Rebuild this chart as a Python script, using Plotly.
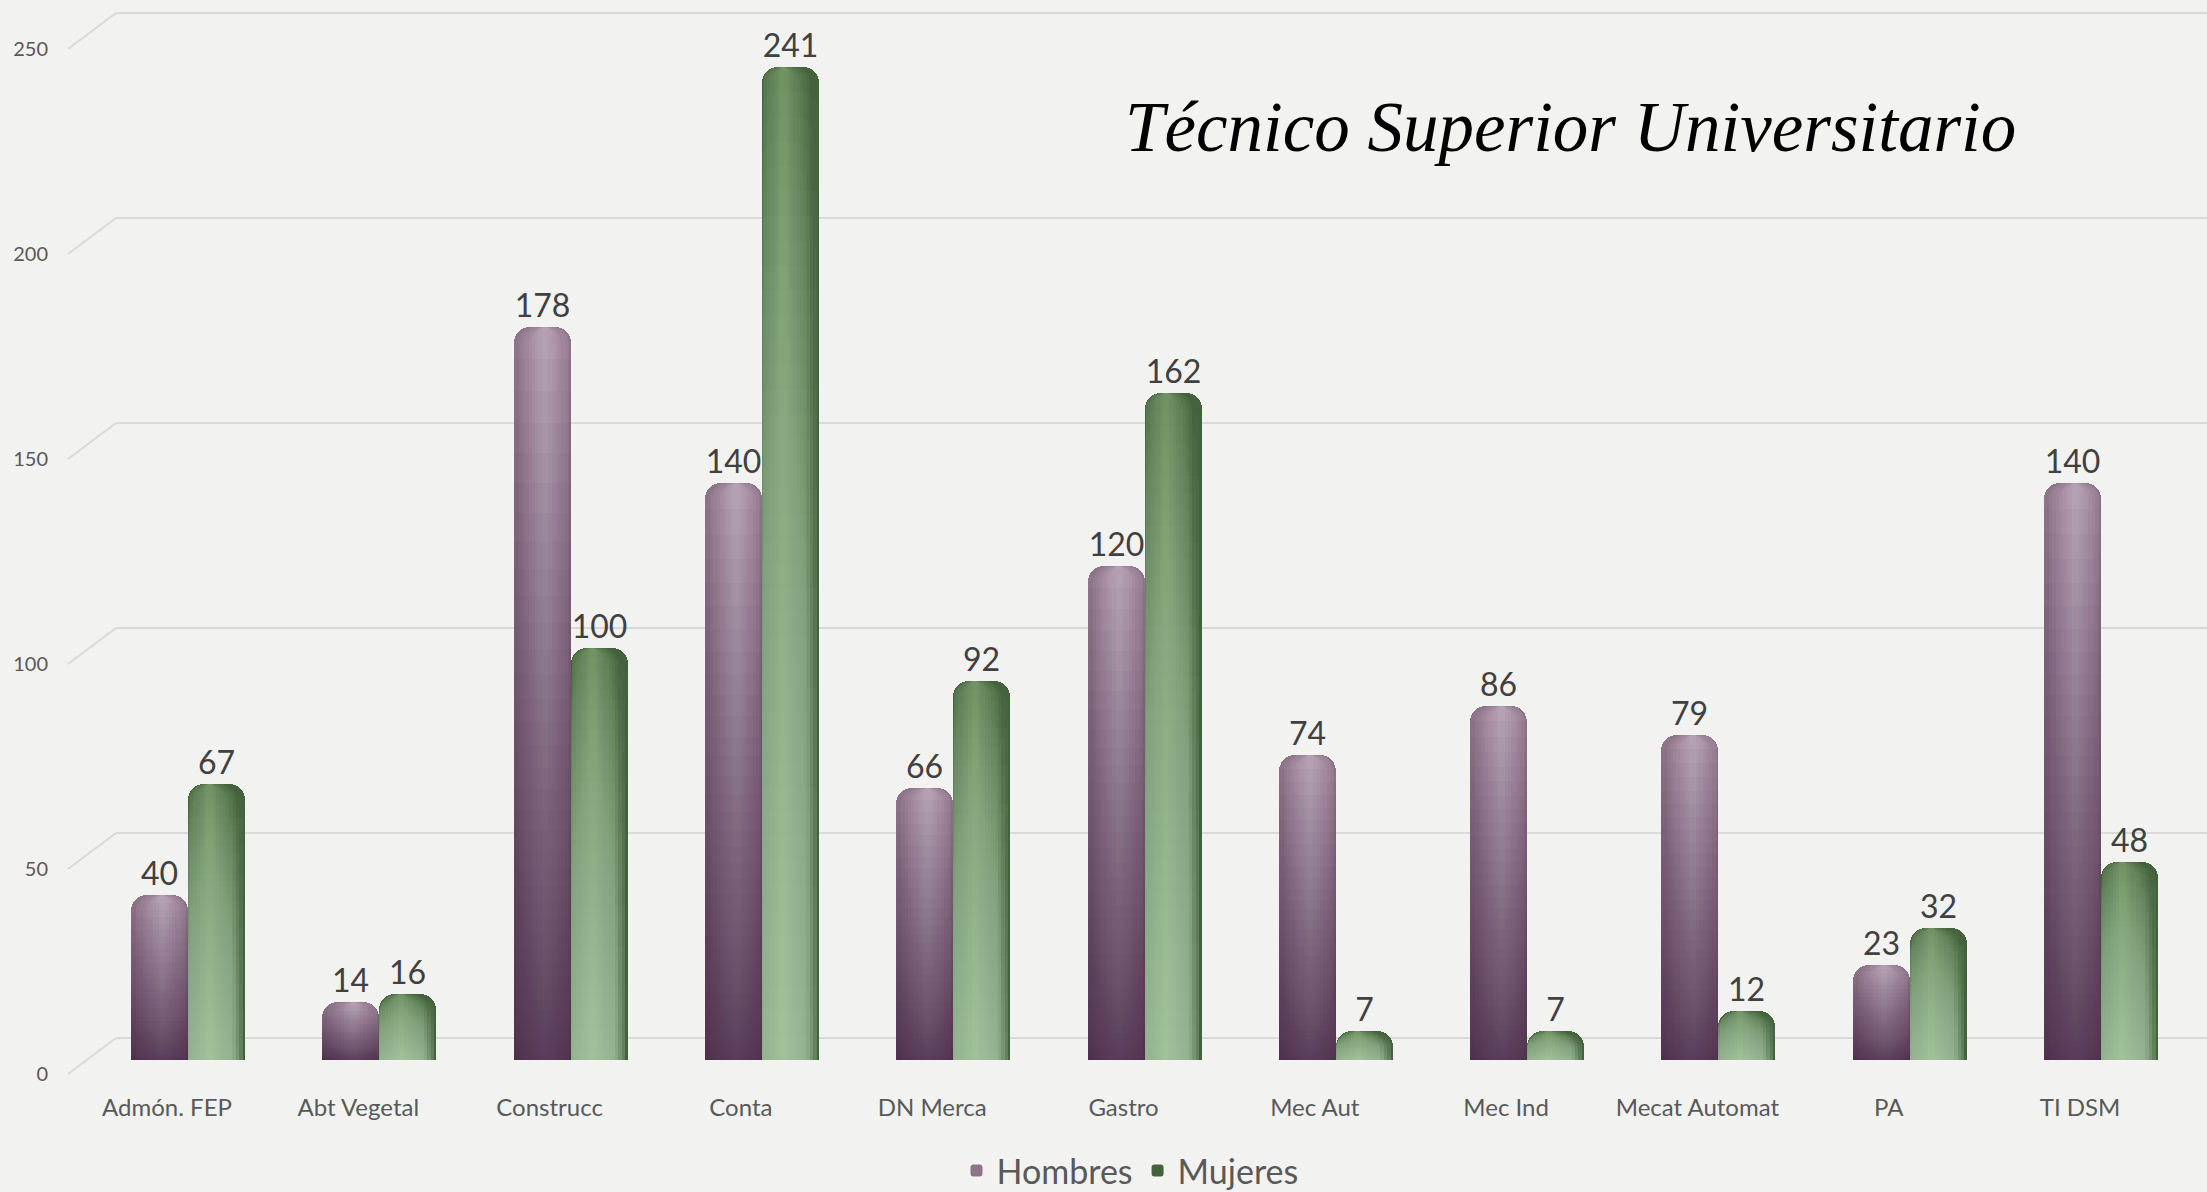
import plotly.graph_objects as go

# ---------------- data ----------------
categories = ["Admón. FEP", "Abt Vegetal", "Construcc", "Conta", "DN Merca", "Gastro",
              "Mec Aut", "Mec Ind", "Mecat Automat", "PA", "TI DSM"]
hombres = [40, 14, 178, 140, 66, 120, 74, 86, 79, 23, 140]
mujeres = [67, 16, 100, 241, 92, 162, 7, 7, 12, 32, 48]
y_ticks = [0, 50, 100, 150, 200, 250]
series_names = ["Hombres", "Mujeres"]
title_text = "Técnico Superior Universitario"

# ---------------- geometry ----------------
W, H = 2207, 1192
ML, MR, MT, MB = 116, 0, 10, 110
PW, PH = W - ML - MR, H - MT - MB

CAT_PX = 191.3          # pixels between category centres
FIRST_PX = 188          # pixel centre of first group
x0 = -(FIRST_PX - ML) / CAT_PX
x_range = [x0, x0 + PW / CAT_PX]

GRID_PX = 4.1           # back-wall scale (px per unit)
GRID_ZERO = 1038
g0 = -(MT + PH - GRID_ZERO) / GRID_PX
grid_range = [g0, g0 + PH / GRID_PX]

BAR_PX = 4.12           # front (bar) scale
BAR_ZERO = 1060
b0 = -(MT + PH - BAR_ZERO) / BAR_PX
bar_range = [b0, b0 + PH / BAR_PX]

BW = 57 / CAT_PX        # single bar width (category units)
R = 16                  # cap radius px
FONT = "Lato"
BG = "#f2f2f1"

fig = go.Figure()


def rgba(c, a):
    return "rgba(%d,%d,%d,%.4f)" % (c[0], c[1], c[2], a)


def add_series(vals, name, off, base_col, vert_col, vert_total, vert_rights, vert_pow,
               hl_col, hl_total, hl_center, hl_span):
    # main bar (carries value labels + legend)
    fig.add_trace(go.Bar(
        x=categories, y=vals, name=name, width=BW, offset=off, yaxis="y2",
        marker=dict(color=rgba(base_col, 1), cornerradius=R, line=dict(width=0)),
        text=vals, textposition="outside", cliponaxis=False,
        textfont=dict(size=32, color="#404040", family=FONT),
    ))
    # horizontal cylinder highlight layers
    J = 8
    a = 1 - (1 - hl_total) ** (1 / J)
    lo, hi = hl_span
    for j in range(J):
        f = 0.92 * (1 - j / J)
        left = max(lo, hl_center - f / 2)
        right = min(hi, hl_center + f / 2)
        fig.add_trace(go.Bar(
            x=categories, y=vals, width=BW * (right - left), offset=off + BW * left,
            yaxis="y2", showlegend=False, hoverinfo="skip",
            marker=dict(color=rgba(hl_col, a), cornerradius=R, line=dict(width=0)),
        ))
    # vertical gradient layers (shading only)
    K = 40
    b = 1 - (1 - vert_total) ** (1 / (K - 1))
    for k in range(1, K):
        frac = (k / K) ** vert_pow
        vr = vert_rights[k % len(vert_rights)]
        fig.add_trace(go.Bar(
            x=categories, y=[v * frac for v in vals], width=BW * vr,
            offset=off, yaxis="y2", showlegend=False, hoverinfo="skip",
            marker=dict(color=rgba(vert_col, b), cornerradius=R, line=dict(width=0)),
        ))


add_series(hombres, series_names[0], -BW,
           base_col=(142, 116, 137), vert_col=(56, 30, 56), vert_total=0.7, vert_rights=[1.0],
           vert_pow=1.8,
           hl_col=(240, 222, 238), hl_total=0.42, hl_center=0.55, hl_span=(0.04, 0.97))
add_series(mujeres, series_names[1], 0,
           base_col=(68, 99, 60), vert_col=(196, 228, 180), vert_total=0.7,
           vert_rights=[0.78, 0.84, 0.9, 0.96],
           vert_pow=1.0,
           hl_col=(196, 230, 182), hl_total=0.36, hl_center=0.38, hl_span=(0.02, 0.9))

# diagonal connectors from tick labels to back-wall gridlines
for t in y_ticks:
    fig.add_shape(type="line", xref="paper", yref="y", layer="below",
                  x0=-(ML - 68) / PW, x1=0, y0=t - 36 / GRID_PX, y1=t,
                  line=dict(color="#d9d9d9", width=2))

fig.add_annotation(text="<i>" + title_text + "</i>", xref="paper", yref="paper",
                   x=(1570 - ML) / PW, y=(MT + PH - 127) / PH, showarrow=False,
                   xanchor="center", yanchor="middle",
                   font=dict(family="Liberation Serif", size=71, color="#000000"))

fig.update_layout(
    width=W, height=H, autosize=False,
    margin=dict(l=ML, r=MR, t=MT, b=MB, autoexpand=False),
    paper_bgcolor=BG, plot_bgcolor=BG,
    barmode="overlay", bargap=0,
    font=dict(family=FONT, color="#595959"),
    xaxis=dict(type="category", range=x_range, showgrid=False, zeroline=False,
               showline=False, ticks="", tickfont=dict(size=24, color="#595959", family=FONT),
               ticklabelshift=-21, ticklabelstandoff=9, fixedrange=True, automargin=False),
    yaxis=dict(range=grid_range, tickvals=y_ticks, showgrid=True, gridcolor="#d9d9d9",
               gridwidth=2, zeroline=False, showline=False, ticks="",
               tickfont=dict(size=20, color="#595959", family=FONT),
               ticklabelshift=36, ticklabelstandoff=67, fixedrange=True, automargin=False),
    yaxis2=dict(range=bar_range, overlaying="y", visible=False, fixedrange=True),
    legend=dict(orientation="h", x=(1130 - ML) / PW, y=-(1171 - MT - PH) / PH,
                xanchor="center", yanchor="middle", font=dict(size=34, color="#595959", family=FONT),
                bgcolor="rgba(0,0,0,0)", itemwidth=30),
    showlegend=True,
)

fig.write_html("out.html", config={"displayModeBar": False},
               post_script="document.body.style.margin='0';document.body.style.overflow='hidden';")
